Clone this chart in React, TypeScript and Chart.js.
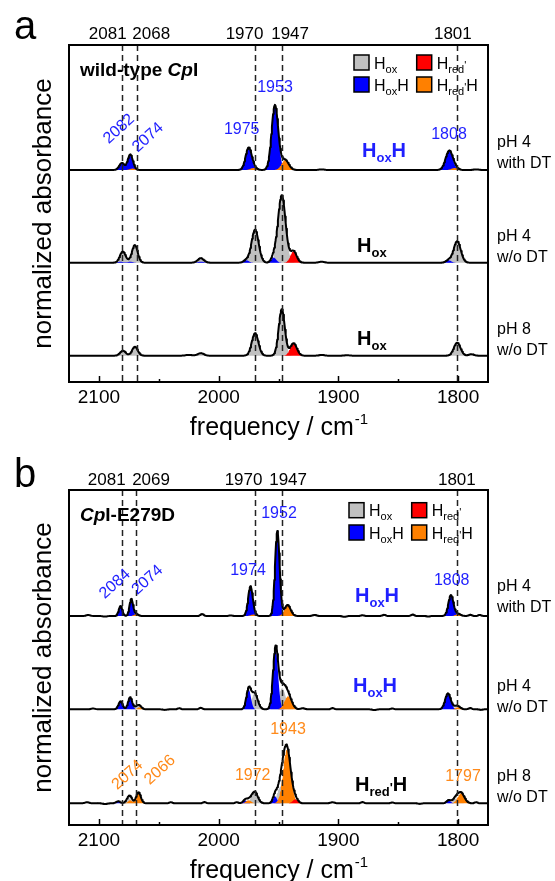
import { useEffect, useRef } from 'react'
import { Chart, registerables } from 'chart.js'
Chart.register(...registerables)

type Band = [number, number, number] // centre / cm-1, height, FWHM / cm-1

const FONT = "'Liberation Sans', Arial, Helvetica, sans-serif"
const GRAY = '#c0c0c0', RED = '#ff0000', BLUE = '#0000ff', ORANGE = '#ff8000'
const BLUE_TXT = '#1f1fff', ORANGE_TXT = '#ff8a1a'

const X_MIN = 1775, X_MAX = 2125
const TICKS = [2100, 2050, 2000, 1950, 1900, 1850, 1800]
const TICK_LABELS = ['2100', '', '2000', '', '1900', '', '1800']
const MARKS_A = [2081, 2068, 1970, 1947, 1801]
const MARKS_B = [2081, 2069, 1970, 1947, 1801]
const CONDITIONS = [['pH 4', 'with DT'], ['pH 4', 'w/o DT'], ['pH 8', 'w/o DT']]

// a: wild-type CpI — pH 4 with DT
const A1_OX: Band[] = []
const A1_RED: Band[] = []
const A1_OXH: Band[] = [[2081, 0.07, 5], [2074, 0.145, 5], [1975, 0.22, 6], [1953, 0.65, 6.5], [1807.5, 0.19, 7]]
const A1_REDH: Band[] = [[2072, 0.015, 5], [1971, 0.02, 6], [1944.5, 0.10, 7], [1803, 0.02, 6]]
const A1_REST: Band[] = [[1914, 0.006, 5], [1785, 0.006, 5]]
// a: pH 4 w/o DT
const A2_OX: Band[] = [[2080, 0.105, 5.5], [2070, 0.175, 5.5], [2015, 0.035, 6], [1969.6, 0.33, 7], [1947.3, 0.675, 7.5], [1800.8, 0.215, 7]]
const A2_RED: Band[] = [[1937.5, 0.115, 6]]
const A2_OXH: Band[] = [[2082, 0.01, 5], [2074, 0.01, 5], [2015, 0.01, 6], [1977, 0.025, 5], [1954, 0.05, 5], [1808, 0.025, 5]]
const A2_REDH: Band[] = []
const A2_REST: Band[] = [[1914, 0.01, 5]]
// a: pH 8 w/o DT
const A3_OX: Band[] = [[2080, 0.05, 5.5], [2070, 0.09, 5.5], [2015, 0.025, 6], [1969.6, 0.225, 6.5], [1947.3, 0.465, 6], [1800.8, 0.13, 6.5], [1789, 0.015, 5]]
const A3_RED: Band[] = [[2025, 0.008, 6], [1937.5, 0.125, 6.5]]
const A3_OXH: Band[] = []
const A3_REDH: Band[] = []
const A3_REST: Band[] = [[1914, 0.008, 5], [1893, 0.005, 5]]

// b: CpI-E279D — pH 4 with DT
const B1_OX: Band[] = []
const B1_RED: Band[] = []
const B1_OXH: Band[] = [[2082, 0.10, 3.5], [2073, 0.17, 3.5], [1973.5, 0.29, 4.5], [1951, 0.85, 4.5], [1806, 0.21, 5]]
const B1_REDH: Band[] = [[2069, 0.02, 4], [1971, 0.015, 5], [1942.5, 0.11, 6], [1800, 0.02, 5]]
const B1_REST: Band[] = [[2109, 0.01, 4], [2095, -0.006, 4], [2014, 0.02, 3], [1990, 0.006, 3], [1920, 0.01, 4], [1895, -0.008, 4],
  [1880, 0.008, 3], [1862, 0.012, 3], [1838, 0.014, 3], [1825, -0.006, 3], [1790, 0.012, 3], [1782, 0.01, 3]]
// b: pH 4 w/o DT
const B2_OX: Band[] = [[2068, 0.03, 5], [1970, 0.16, 6], [1947, 0.21, 7], [1802, 0.02, 5]]
const B2_RED: Band[] = []
const B2_OXH: Band[] = [[2082, 0.08, 4], [2074, 0.12, 4], [1975, 0.2, 4.5], [1952.5, 0.60, 5], [1808.5, 0.16, 5.5]]
const B2_REDH: Band[] = [[2066, 0.02, 4], [1942, 0.13, 7], [1800, 0.02, 5]]
const B2_REST: Band[] = [[2105, 0.008, 4], [2045, -0.006, 4], [2033, 0.01, 3], [2015, 0.015, 3], [1930, 0.01, 4], [1905, 0.012, 3],
  [1870, -0.008, 4], [1855, 0.008, 3], [1790, 0.012, 3], [1781, -0.006, 3]]
// b: pH 8 w/o DT
const B3_OX: Band[] = [[2075, 0.05, 5], [1970, 0.115, 6], [1948, 0.17, 7], [1802, 0.05, 6]]
const B3_RED: Band[] = [[1936, 0.04, 5]]
const B3_OXH: Band[] = [[2084, 0.02, 4], [1978, 0.03, 4], [1953, 0.07, 4], [1808, 0.03, 4]]
const B3_REDH: Band[] = [[2074, 0.03, 4], [2067, 0.11, 4.5], [1975, 0.03, 5], [1943, 0.54, 7.5], [1797.5, 0.10, 6.5]]
const B3_REST: Band[] = [[2110, 0.01, 4], [2095, -0.008, 4], [2040, 0.01, 3], [2012, 0.012, 3], [1985, 0.01, 3], [1905, 0.01, 4],
  [1880, 0.012, 3], [1855, 0.008, 3], [1832, -0.006, 3], [1785, 0.01, 3]]

type Trace = { base: number; ox: Band[]; red: Band[]; oxh: Band[]; redh: Band[]; rest: Band[] }
const SPECIES: { key: 'ox' | 'red' | 'oxh' | 'redh'; color: string; order: number }[] = [
  { key: 'ox', color: GRAY, order: 4 },
  { key: 'oxh', color: BLUE, order: 3 },
  { key: 'redh', color: ORANGE, order: 2 },
  { key: 'red', color: RED, order: 1 },
]

const STEP = 0.5
const XS = Array.from({ length: (X_MAX - X_MIN) / STEP + 1 }, (_, i) => X_MAX - i * STEP)
const profile = (bands: Band[], x: number) =>
  bands.reduce((s, [c, h, w]) => s + h * Math.exp(-4 * Math.LN2 * ((x - c) / w) ** 2), 0)

type Seg = { t: string; size: number; dy?: number; italic?: boolean }
function drawRich(ctx: CanvasRenderingContext2D, segs: Seg[], x: number, y: number, color: string, bold: boolean) {
  ctx.save()
  ctx.fillStyle = color
  ctx.textBaseline = 'alphabetic'
  ctx.textAlign = 'left'
  let cx = x
  for (const s of segs) {
    ctx.font = `${s.italic ? 'italic ' : ''}${bold ? 'bold ' : ''}${s.size}px ${FONT}`
    ctx.fillText(s.t, cx, y + (s.dy ?? 0))
    cx += ctx.measureText(s.t).width
  }
  ctx.restore()
}

const hName = (name: string, big: number, small: number, dy: number): Seg[] => {
  const H = { t: 'H', size: big }
  const sub = name.startsWith('Hox') ? [{ t: 'ox', size: small, dy }] : [{ t: 'red', size: small, dy }, { t: "'", size: small, dy: dy - 4 }]
  return name.endsWith('H') && name.length > 3 ? [H, ...sub, H] : [H, ...sub]
}

type Note = { t: string; x: number; y: number; c: string; rot?: boolean }
type Panel = {
  letter: string
  pad: { left: number; right: number; top: number; bottom: number }
  yMax: number
  traces: Trace[]
  marks: number[]
  markDx: number[]
  markDy: number
  title: Seg[]
  legend: [number, number, number, number]
  species: { name: string; c: string; x: number; y: number }[]
  condY: number[]
  notes: Note[]
}

const PANEL_A: Panel = {
  letter: 'a',
  pad: { left: 69, right: 67, top: 45, bottom: 58 },
  yMax: 3.37,
  traces: [
    { base: 2.12, ox: A1_OX, red: A1_RED, oxh: A1_OXH, redh: A1_REDH, rest: A1_REST },
    { base: 1.193, ox: A2_OX, red: A2_RED, oxh: A2_OXH, redh: A2_REDH, rest: A2_REST },
    { base: 0.263, ox: A3_OX, red: A3_RED, oxh: A3_OXH, redh: A3_REDH, rest: A3_REST },
  ],
  marks: MARKS_A,
  markDx: [-14, 14, -10, 8, -4],
  markDy: 6,
  title: [{ t: 'wild-type ', size: 19 }, { t: 'Cp', size: 19, italic: true }, { t: 'I', size: 19 }],
  legend: [354, 416.7, 55, 77],
  species: [
    { name: 'HoxH', c: BLUE_TXT, x: 362, y: 150 },
    { name: 'Hox', c: '#000', x: 357, y: 245 },
    { name: 'Hox', c: '#000', x: 357, y: 338 },
  ],
  condY: [143, 236.7, 330],
  notes: [
    { t: '2082', x: 119, y: 129, c: BLUE_TXT, rot: true },
    { t: '2074', x: 148, y: 137.5, c: BLUE_TXT, rot: true },
    { t: '1975', x: 241.7, y: 130, c: BLUE_TXT },
    { t: '1953', x: 275, y: 88, c: BLUE_TXT },
    { t: '1808', x: 449, y: 135, c: BLUE_TXT },
  ],
}

const PANEL_B: Panel = {
  letter: 'b',
  pad: { left: 69, right: 67, top: 50, bottom: 56 },
  yMax: 3.35,
  traces: [
    { base: 2.09, ox: B1_OX, red: B1_RED, oxh: B1_OXH, redh: B1_REDH, rest: B1_REST },
    { base: 1.157, ox: B2_OX, red: B2_RED, oxh: B2_OXH, redh: B2_REDH, rest: B2_REST },
    { base: 0.217, ox: B3_OX, red: B3_RED, oxh: B3_OXH, redh: B3_REDH, rest: B3_REST },
  ],
  marks: MARKS_B,
  markDx: [-15, 15, -11, 6, 0],
  markDy: 5,
  title: [{ t: 'Cp', size: 19, italic: true }, { t: 'I-E279D', size: 19 }],
  legend: [349, 411.7, 62.7, 85],
  species: [
    { name: 'HoxH', c: BLUE_TXT, x: 355, y: 155 },
    { name: 'HoxH', c: BLUE_TXT, x: 353, y: 245 },
    { name: "Hred'H", c: '#000', x: 355, y: 344 },
  ],
  condY: [146.7, 246.7, 336.7],
  notes: [
    { t: '2084', x: 115, y: 144, c: BLUE_TXT, rot: true },
    { t: '2074', x: 147.5, y: 140, c: BLUE_TXT, rot: true },
    { t: '1974', x: 248, y: 130.7, c: BLUE_TXT },
    { t: '1952', x: 279, y: 74, c: BLUE_TXT },
    { t: '1808', x: 451.7, y: 140.7, c: BLUE_TXT },
    { t: '2074', x: 127.5, y: 335, c: ORANGE_TXT, rot: true },
    { t: '2066', x: 160, y: 330, c: ORANGE_TXT, rot: true },
    { t: '1972', x: 252.7, y: 336, c: ORANGE_TXT },
    { t: '1943', x: 288, y: 290, c: ORANGE_TXT },
    { t: '1797', x: 463, y: 336.7, c: ORANGE_TXT },
  ],
}

function decorate(chart: Chart, p: Panel) {
  const ctx = chart.ctx
  const { left, right, top, bottom } = chart.chartArea
  const xs = chart.scales.x
  ctx.save()

  // dashed reference lines
  ctx.strokeStyle = '#222'
  ctx.lineWidth = 1.5
  ctx.setLineDash([6, 4])
  p.marks.forEach(v => {
    const px = Math.round(xs.getPixelForValue(v)) + 0.5
    ctx.beginPath(); ctx.moveTo(px, top); ctx.lineTo(px, bottom); ctx.stroke()
  })
  ctx.setLineDash([])

  // frame and inward ticks
  ctx.strokeStyle = '#000'
  ctx.lineWidth = 2
  ctx.strokeRect(left, top, right - left, bottom - top)
  ctx.lineWidth = 1.5
  TICKS.forEach((v, i) => {
    const px = Math.round(xs.getPixelForValue(v)) + 0.5
    const len = TICK_LABELS[i] ? 6 : 3
    ctx.beginPath(); ctx.moveTo(px, bottom); ctx.lineTo(px, bottom - len); ctx.stroke()
  })

  ctx.fillStyle = '#000'
  ctx.textAlign = 'center'
  ctx.textBaseline = 'alphabetic'
  ctx.font = `19px ${FONT}`
  TICKS.forEach((v, i) => {
    if (TICK_LABELS[i]) ctx.fillText(TICK_LABELS[i], xs.getPixelForValue(v), bottom + 21)
  })
  ctx.font = `17px ${FONT}`
  p.marks.forEach((v, i) => ctx.fillText(String(v), xs.getPixelForValue(v) + p.markDx[i], top - p.markDy))

  // axis titles
  const main = 'frequency / cm'
  ctx.font = `25px ${FONT}`
  const wMain = ctx.measureText(main).width
  ctx.font = `15px ${FONT}`
  const wSup = ctx.measureText('-1').width
  const x0 = (left + right) / 2 - (wMain + wSup) / 2
  ctx.textAlign = 'left'
  ctx.font = `25px ${FONT}`
  ctx.fillText(main, x0, bottom + 53)
  ctx.font = `15px ${FONT}`
  ctx.fillText('-1', x0 + wMain + 1, bottom + 42)

  ctx.save()
  ctx.translate(44, (top + bottom) / 2)
  ctx.rotate(-Math.PI / 2)
  ctx.textAlign = 'center'
  ctx.textBaseline = 'middle'
  ctx.font = `26px ${FONT}`
  ctx.fillText('normalized absorbance', 0, 0)
  ctx.restore()

  // panel letter and title
  ctx.textAlign = 'left'
  ctx.font = `40px ${FONT}`
  ctx.fillText(p.letter, 14, p.letter === 'a' ? 39 : 47)
  drawRich(ctx, p.title, left + 11, top + 31, '#000', true)

  // legend
  const [lx1, lx2, ly1, ly2] = p.legend
  const items: [string, number, number, string][] = [
    [GRAY, lx1, ly1, 'Hox'], [RED, lx2, ly1, "Hred'"], [BLUE, lx1, ly2, 'HoxH'], [ORANGE, lx2, ly2, "Hred'H"],
  ]
  items.forEach(([c, x, y, name]) => {
    ctx.fillStyle = c
    ctx.fillRect(x, y, 15, 15)
    ctx.strokeStyle = '#000'
    ctx.lineWidth = 1.5
    ctx.strokeRect(x, y, 15, 15)
    drawRich(ctx, hName(name, 16, 11, 4), x + 20, y + 13.5, '#000', false)
  })

  // species labels
  p.species.forEach(s => drawRich(ctx, hName(s.name, 20, 13, 5), s.x, s.y + 7, s.c, true))

  // conditions at the right
  ctx.fillStyle = '#000'
  ctx.font = `16px ${FONT}`
  ctx.textAlign = 'left'
  ctx.textBaseline = 'middle'
  p.condY.forEach((y, i) => {
    ctx.fillText(CONDITIONS[i][0], right + 9, y)
    ctx.fillText(CONDITIONS[i][1], right + 9, y + 20.5)
  })

  // peak positions
  ctx.textAlign = 'center'
  ctx.font = `16px ${FONT}`
  p.notes.forEach(n => {
    ctx.fillStyle = n.c
    ctx.save()
    ctx.translate(n.x, n.y)
    if (n.rot) ctx.rotate(-Math.PI / 4.3)
    ctx.fillText(n.t, 0, 0)
    ctx.restore()
  })
  ctx.restore()
}

function makeChart(canvas: HTMLCanvasElement, p: Panel) {
  const datasets: any[] = []
  p.traces.forEach(tr => {
    SPECIES.forEach(sp => {
      const bands = tr[sp.key]
      if (!bands.length) return
      datasets.push({
        data: XS.map(x => ({ x, y: tr.base + profile(bands, x) })),
        fill: { value: tr.base },
        backgroundColor: sp.color,
        borderColor: 'rgba(0,0,0,0)',
        borderWidth: 0,
        pointRadius: 0,
        order: sp.order,
      })
    })
    const all = [...SPECIES.flatMap(sp => tr[sp.key]), ...tr.rest]
    datasets.push({
      data: XS.map(x => ({ x, y: tr.base + profile(all, x) })),
      fill: false,
      borderColor: '#000',
      borderWidth: 2,
      borderJoinStyle: 'round',
      pointRadius: 0,
      order: 0,
    })
  })

  return new Chart(canvas, {
    type: 'line',
    data: { datasets },
    options: {
      animation: false,
      responsive: true,
      maintainAspectRatio: false,
      events: [],
      layout: { padding: p.pad },
      plugins: { legend: { display: false }, tooltip: { enabled: false } },
      scales: {
        x: { type: 'linear', min: X_MIN, max: X_MAX, reverse: true, display: false },
        y: { min: 0, max: p.yMax, display: false },
      },
    },
    plugins: [{ id: 'decor', afterDraw: (c: Chart) => decorate(c, p) }],
  })
}

export default function App() {
  const refA = useRef<HTMLCanvasElement>(null)
  const refB = useRef<HTMLCanvasElement>(null)

  useEffect(() => {
    const charts: Chart[] = []
    if (refA.current) charts.push(makeChart(refA.current, PANEL_A))
    if (refB.current) charts.push(makeChart(refB.current, PANEL_B))
    return () => charts.forEach(c => c.destroy())
  }, [])

  return (
    <div style={{ position: 'absolute', left: 0, top: 0, width: 555, height: 881, background: '#fff' }}>
      <div style={{ position: 'absolute', left: 0, top: 0, width: 555, height: 440 }}><canvas ref={refA} /></div>
      <div style={{ position: 'absolute', left: 0, top: 440, width: 555, height: 441 }}><canvas ref={refB} /></div>
    </div>
  )
}
